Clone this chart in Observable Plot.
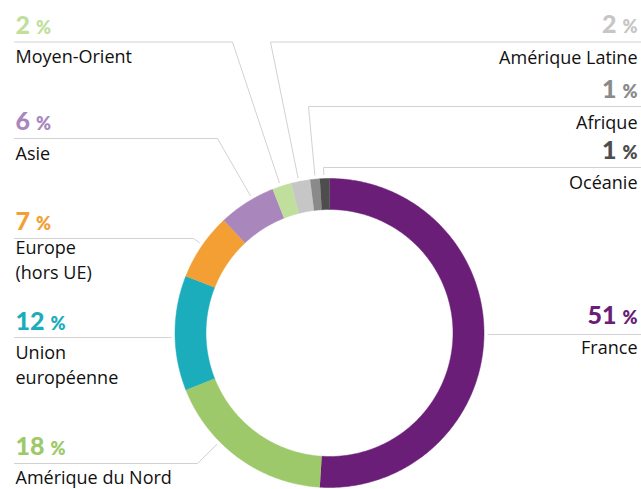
<!DOCTYPE html>
<html><head><meta charset="utf-8">
<script src="https://cdn.jsdelivr.net/npm/d3@7"></script>
<script src="https://cdn.jsdelivr.net/npm/@observablehq/plot@0.6"></script>
<style>
html,body{margin:0;padding:0;background:#fff;}
#chart svg{display:block;}
</style>
</head><body><div id="chart"></div>
<script>
// ---- data ----
const categories = ["France","Amérique du Nord","Union européenne","Europe (hors UE)","Asie","Moyen-Orient","Amérique Latine","Afrique","Océanie"];
const values = [51, 18, 12, 7, 6, 2, 2, 1, 1];
const labelTexts = ["France","Amérique du Nord","Union\neuropéenne","Europe\n(hors UE)","Asie","Moyen-Orient","Amérique Latine","Afrique","Océanie"];
const colors = ["#6a1e78","#9dc96a","#1badbb","#f39f34","#a987bd","#c0df9d","#c6c6c6","#8a8a8a","#4d4d4d"];

// ---- layout (pixel space) ----
const W = 641, H = 489;
const cx = 329, cy = 332.5, R = 154.5, r = 123.5;
const layout = {
  "France":            {side:"R", lineY:334,  elbowX:490, pctY:323, labY:353},
  "Amérique du Nord":  {side:"L", lineY:463,  elbowX:197, pctY:454, labY:483},
  "Union européenne":  {side:"L", lineY:337,  elbowX:168, pctY:329, labY:383},
  "Europe (hors UE)":  {side:"L", lineY:238,  elbowX:193, pctY:229, labY:278},
  "Asie":              {side:"L", lineY:138,  elbowX:217, pctY:129, labY:159},
  "Moyen-Orient":      {side:"L", lineY:41.5, elbowX:232, pctY:33,  labY:62},
  "Amérique Latine":   {side:"R", lineY:41.5, elbowX:270, pctY:32,  labY:63},
  "Afrique":           {side:"R", lineY:106,  elbowX:308, pctY:97,  labY:128},
  "Océanie":           {side:"R", lineY:167,  elbowX:323, pctY:158, labY:188}
};
const leftX = 15, rightX = 637;

const data = categories.map((name, i) => ({name, value: values[i], label: labelTexts[i]}));
const arcs = d3.pie().sort(null).value(d => d.value).startAngle(0).endAngle(2 * Math.PI)(data);

// ring polygons
const ringPts = [];
arcs.forEach(a => {
  const n = Math.max(2, Math.ceil((a.endAngle - a.startAngle) / (Math.PI / 360)));
  for (let k = 0; k <= n; k++) {
    const t = a.startAngle + (a.endAngle - a.startAngle) * k / n;
    ringPts.push({name: a.data.name, x: cx + R * Math.sin(t), y: cy - R * Math.cos(t)});
  }
  for (let k = n; k >= 0; k--) {
    const t = a.startAngle + (a.endAngle - a.startAngle) * k / n;
    ringPts.push({name: a.data.name, x: cx + r * Math.sin(t), y: cy - r * Math.cos(t)});
  }
});

// leader lines
const leaderPts = [];
data.forEach(d => {
  const L = layout[d.name];
  const startX = L.side === "L" ? 14 : W;
  const dx = L.elbowX - cx, dy = L.lineY - cy, len = Math.hypot(dx, dy);
  const rr = R + 4;
  leaderPts.push({name: d.name, x: startX, y: L.lineY});
  leaderPts.push({name: d.name, x: L.elbowX, y: L.lineY});
  leaderPts.push({name: d.name, x: cx + dx / len * rr, y: cy + dy / len * rr});
});

const isL = d => layout[d.name].side === "L";
const isR = d => layout[d.name].side === "R";
const labelFont = {fontFamily: "Open Sans", fontSize: 18, fill: "#111", lineAnchor: "bottom", lineHeight: 1.36};
const pctFont = {fontFamily: "Lato", fontSize: 25, fontWeight: 900, lineAnchor: "bottom"};

const plot = Plot.plot({
  width: W, height: H,
  margin: 0,
  x: {domain: [0, W], range: [0, W], axis: null},
  y: {domain: [0, H], range: [0, H], axis: null},
  color: {domain: categories, range: colors},
  style: {background: "#fff"},
  marks: [
    Plot.line(leaderPts, {x: "x", y: "y", z: "name", stroke: "#d2d2d2", strokeWidth: 1, curve: "linear"}),
    Plot.line(ringPts, {x: "x", y: "y", z: "name", fill: "name", stroke: "name", strokeWidth: 0.5, curve: "linear"}),
    Plot.text(data.filter(isL), {x: () => leftX, y: d => layout[d.name].pctY, text: d => `${d.value} %`, fill: "name", textAnchor: "start", className: "pct", ...pctFont}),
    Plot.text(data.filter(isR), {x: () => rightX, y: d => layout[d.name].pctY, text: d => `${d.value} %`, fill: "name", textAnchor: "end", className: "pct", ...pctFont}),
    Plot.text(data.filter(isL), {x: () => leftX, y: d => layout[d.name].labY, text: "label", textAnchor: "start", ...labelFont}),
    Plot.text(data.filter(isR), {x: () => rightX, y: d => layout[d.name].labY, text: "label", textAnchor: "end", ...labelFont})
  ]
});

// smaller percent sign
plot.querySelectorAll("g.pct text").forEach(t => {
  const s = t.textContent;
  const m = s.match(/^(\d+)\s*%$/);
  if (!m) return;
  t.textContent = "";
  const ns = "http://www.w3.org/2000/svg";
  const a = document.createElementNS(ns, "tspan");
  a.textContent = m[1];
  const b = document.createElementNS(ns, "tspan");
  b.textContent = "%";
  b.setAttribute("dx", "6");
  b.setAttribute("font-size", "18");
  b.setAttribute("font-weight", "800");
  t.appendChild(a); t.appendChild(b);
});

document.getElementById("chart").appendChild(plot);
</script>
</body></html>
